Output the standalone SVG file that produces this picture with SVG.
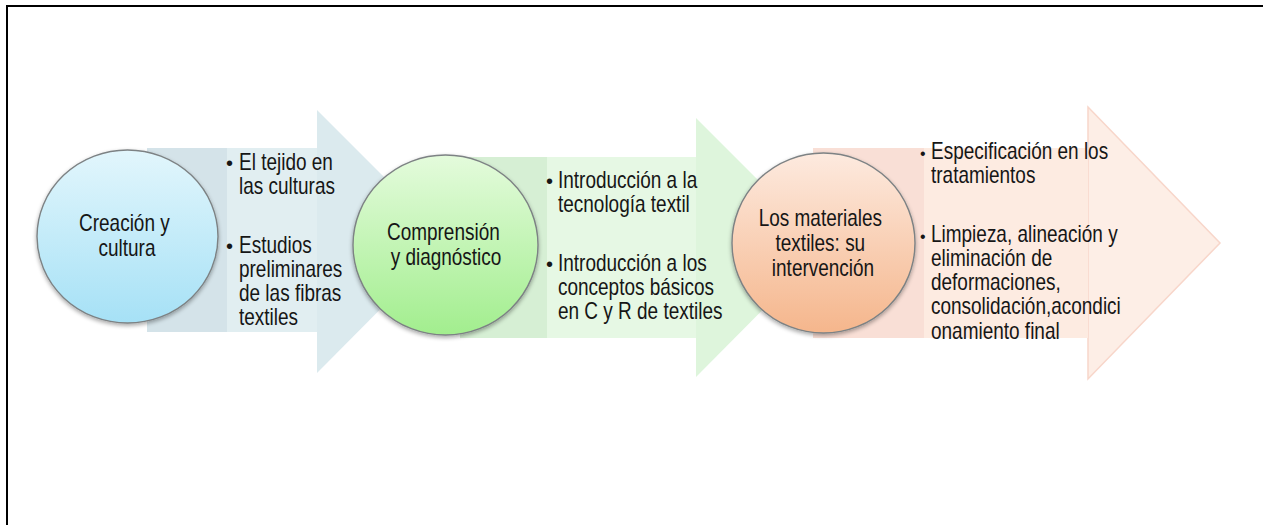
<svg xmlns="http://www.w3.org/2000/svg" width="1263" height="525" viewBox="0 0 1263 525">
  <style>
    .t { font-family: "Liberation Sans", Arial, sans-serif; font-size: 23px; fill: #161616; }
    .m { text-anchor: middle; }
    .ring { stroke: #7d8284; stroke-width: 1.4; }
  </style>
  <defs>
    <linearGradient id="gBlue" x1="0" y1="0" x2="0" y2="1">
      <stop offset="0" stop-color="#e2f6fc"/>
      <stop offset="1" stop-color="#a6e1f6"/>
    </linearGradient>
    <linearGradient id="gGreen" x1="0" y1="0" x2="0" y2="1">
      <stop offset="0" stop-color="#e4fbdc"/>
      <stop offset="1" stop-color="#a2ee8e"/>
    </linearGradient>
    <linearGradient id="gOrange" x1="0" y1="0" x2="0" y2="1">
      <stop offset="0" stop-color="#fdeadf"/>
      <stop offset="1" stop-color="#f5b68c"/>
    </linearGradient>
    <filter id="sh" x="-20%" y="-20%" width="140%" height="150%">
      <feGaussianBlur in="SourceAlpha" stdDeviation="2"/>
      <feOffset dx="0" dy="2" result="b"/>
      <feComponentTransfer><feFuncA type="linear" slope="0.35"/></feComponentTransfer>
      <feMerge><feMergeNode/><feMergeNode in="SourceGraphic"/></feMerge>
    </filter>
  </defs>

  <rect width="1263" height="525" fill="#ffffff"/>
  <path d="M7,525 V6 H1263" fill="none" stroke="#000000" stroke-width="2"/>

  <g id="connectors">
    <g id="arrow1">
      <polygon points="317,110 448,241 317,373" fill="#dbeaee"/>
      <rect x="147" y="148" width="80" height="184" fill="#d4e3e9"/>
      <rect x="227" y="148" width="90" height="184" fill="#e1eef1"/>
    </g>
    <g id="arrow2">
      <polygon points="696,118 825,247 696,377" fill="#def5dc"/>
      <rect x="460" y="157" width="87" height="181" fill="#d6efd4"/>
      <rect x="547" y="157" width="149" height="181" fill="#e6f8e4"/>
    </g>
    <g id="arrow3">
      <polygon points="1088,107 1220,243 1088,379" fill="#fdeee6" stroke="#f8d6ca" stroke-width="1.5"/>
      <rect x="813" y="148" width="111" height="190" fill="#f9dfd6"/>
      <rect x="924" y="148" width="164" height="190" fill="#fdebe1"/>
    </g>
  </g>

  <g id="list1">
    <text class="t" x="226" y="170" style="font-size:20px">•</text>
    <text class="t" x="226" y="253" style="font-size:20px">•</text>
    <text class="t" transform="matrix(0.825 0 0 1 239 0)">
      <tspan x="0" y="170">El tejido en</tspan>
      <tspan x="0" y="194">las culturas</tspan>
      <tspan x="0" y="253">Estudios</tspan>
      <tspan x="0" y="277">preliminares</tspan>
      <tspan x="0" y="301">de las fibras</tspan>
      <tspan x="0" y="325">textiles</tspan>
    </text>
  </g>

  <g id="list2">
    <text class="t" x="546" y="188" style="font-size:20px">•</text>
    <text class="t" x="546" y="271" style="font-size:20px">•</text>
    <text class="t" transform="matrix(0.825 0 0 1 558 0)">
      <tspan x="0" y="188">Introducción a la</tspan>
      <tspan x="0" y="212">tecnología textil</tspan>
      <tspan x="0" y="271">Introducción a los</tspan>
      <tspan x="0" y="295">conceptos básicos</tspan>
      <tspan x="0" y="319">en C y R de textiles</tspan>
    </text>
  </g>

  <g id="list3">
    <text class="t" x="920" y="159" style="font-size:16px">•</text>
    <text class="t" x="920" y="242" style="font-size:16px">•</text>
    <text class="t" transform="matrix(0.825 0 0 1 931 0)">
      <tspan x="0" y="159">Especificación en los</tspan>
      <tspan x="0" y="183">tratamientos</tspan>
      <tspan x="0" y="242">Limpieza, alineación y</tspan>
      <tspan x="0" y="266">eliminación de</tspan>
      <tspan x="0" y="290">deformaciones,</tspan>
      <tspan x="0" y="314">consolidación,acondici</tspan>
      <tspan x="0" y="339">onamiento final</tspan>
    </text>
  </g>

  <g id="node1">
    <ellipse class="ring" cx="127.5" cy="236.5" rx="90.5" ry="86.5" fill="url(#gBlue)" filter="url(#sh)"/>
    <text class="t m" transform="matrix(0.825 0 0 1 127 0)">
      <tspan x="0" y="231">Creación y</tspan>
      <tspan x="0" y="256">cultura</tspan>
    </text>
  </g>

  <g id="node2">
    <ellipse class="ring" cx="445.5" cy="245" rx="92.5" ry="90" fill="url(#gGreen)" filter="url(#sh)"/>
    <text class="t m" transform="matrix(0.825 0 0 1 446 0)">
      <tspan x="0" y="240">Comprensión</tspan>
      <tspan x="0" y="265">y diagnóstico</tspan>
    </text>
  </g>

  <g id="node3">
    <ellipse class="ring" cx="823.5" cy="243" rx="91.5" ry="90" fill="url(#gOrange)" filter="url(#sh)"/>
    <text class="t m" transform="matrix(0.825 0 0 1 823 0)">
      <tspan x="0" y="226">Los materiales</tspan>
      <tspan x="0" y="251">textiles: su</tspan>
      <tspan x="0" y="276">intervención</tspan>
    </text>
  </g>
</svg>
